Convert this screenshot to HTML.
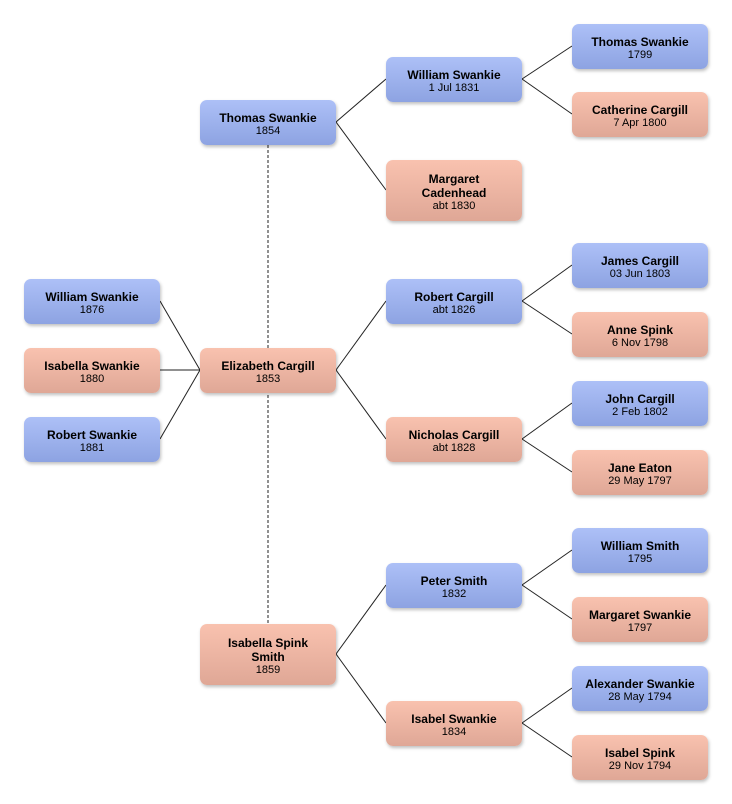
<!DOCTYPE html>
<html><head><style>
body{margin:0;background:#fff;width:732px;height:804px;position:relative;font-family:"Liberation Sans",sans-serif;overflow:hidden}
.n{position:absolute;width:136px;border-radius:7px;box-shadow:1px 2px 3px rgba(0,0,0,.25);display:flex;flex-direction:column;justify-content:center;align-items:center;text-align:center;color:#000;line-height:14px;box-sizing:border-box;padding-top:3px}
.b{background:linear-gradient(#adc0f7,#8da3e2)}
.p{background:linear-gradient(#f9c2af,#dfa796)}
.n b{font-size:12px}
.n span{font-size:11px;line-height:13px}
svg{position:absolute;left:0;top:0}
</style></head><body>
<svg width="732" height="804">
<g stroke="#222" stroke-width="1" fill="none">
<line x1="160" y1="301" x2="200" y2="370"/><line x1="160" y1="370" x2="200" y2="370"/><line x1="160" y1="439" x2="200" y2="370"/>
<line x1="336" y1="122" x2="386" y2="79"/><line x1="336" y1="122" x2="386" y2="190"/>
<line x1="336" y1="370" x2="386" y2="301"/><line x1="336" y1="370" x2="386" y2="439"/>
<line x1="336" y1="654" x2="386" y2="585"/><line x1="336" y1="654" x2="386" y2="723"/>
<line x1="522" y1="79" x2="572" y2="46"/><line x1="522" y1="79" x2="572" y2="114"/>
<line x1="522" y1="301" x2="572" y2="265"/><line x1="522" y1="301" x2="572" y2="334"/>
<line x1="522" y1="439" x2="572" y2="403"/><line x1="522" y1="439" x2="572" y2="472"/>
<line x1="522" y1="585" x2="572" y2="550"/><line x1="522" y1="585" x2="572" y2="619"/>
<line x1="522" y1="723" x2="572" y2="688"/><line x1="522" y1="723" x2="572" y2="757"/>
<line x1="268" y1="145" x2="268" y2="624" stroke-dasharray="3,2"/>
</g></svg>
<div class="n b" style="left:24px;top:279px;height:45px"><b>William Swankie</b><span>1876</span></div>
<div class="n p" style="left:24px;top:348px;height:45px"><b>Isabella Swankie</b><span>1880</span></div>
<div class="n b" style="left:24px;top:417px;height:45px"><b>Robert Swankie</b><span>1881</span></div>
<div class="n b" style="left:200px;top:100px;height:45px"><b>Thomas Swankie</b><span>1854</span></div>
<div class="n p" style="left:200px;top:348px;height:45px"><b>Elizabeth Cargill</b><span>1853</span></div>
<div class="n p" style="left:200px;top:624px;height:61px"><b>Isabella Spink<br>Smith</b><span>1859</span></div>
<div class="n b" style="left:386px;top:57px;height:45px"><b>William Swankie</b><span>1 Jul 1831</span></div>
<div class="n p" style="left:386px;top:160px;height:61px"><b>Margaret<br>Cadenhead</b><span>abt 1830</span></div>
<div class="n b" style="left:386px;top:279px;height:45px"><b>Robert Cargill</b><span>abt 1826</span></div>
<div class="n p" style="left:386px;top:417px;height:45px"><b>Nicholas Cargill</b><span>abt 1828</span></div>
<div class="n b" style="left:386px;top:563px;height:45px"><b>Peter Smith</b><span>1832</span></div>
<div class="n p" style="left:386px;top:701px;height:45px"><b>Isabel Swankie</b><span>1834</span></div>
<div class="n b" style="left:572px;top:24px;height:45px"><b>Thomas Swankie</b><span>1799</span></div>
<div class="n p" style="left:572px;top:92px;height:45px"><b>Catherine Cargill</b><span>7 Apr 1800</span></div>
<div class="n b" style="left:572px;top:243px;height:45px"><b>James Cargill</b><span>03 Jun 1803</span></div>
<div class="n p" style="left:572px;top:312px;height:45px"><b>Anne Spink</b><span>6 Nov 1798</span></div>
<div class="n b" style="left:572px;top:381px;height:45px"><b>John Cargill</b><span>2 Feb 1802</span></div>
<div class="n p" style="left:572px;top:450px;height:45px"><b>Jane Eaton</b><span>29 May 1797</span></div>
<div class="n b" style="left:572px;top:528px;height:45px"><b>William Smith</b><span>1795</span></div>
<div class="n p" style="left:572px;top:597px;height:45px"><b>Margaret Swankie</b><span>1797</span></div>
<div class="n b" style="left:572px;top:666px;height:45px"><b>Alexander Swankie</b><span>28 May 1794</span></div>
<div class="n p" style="left:572px;top:735px;height:45px"><b>Isabel Spink</b><span>29 Nov 1794</span></div>
</body></html>
